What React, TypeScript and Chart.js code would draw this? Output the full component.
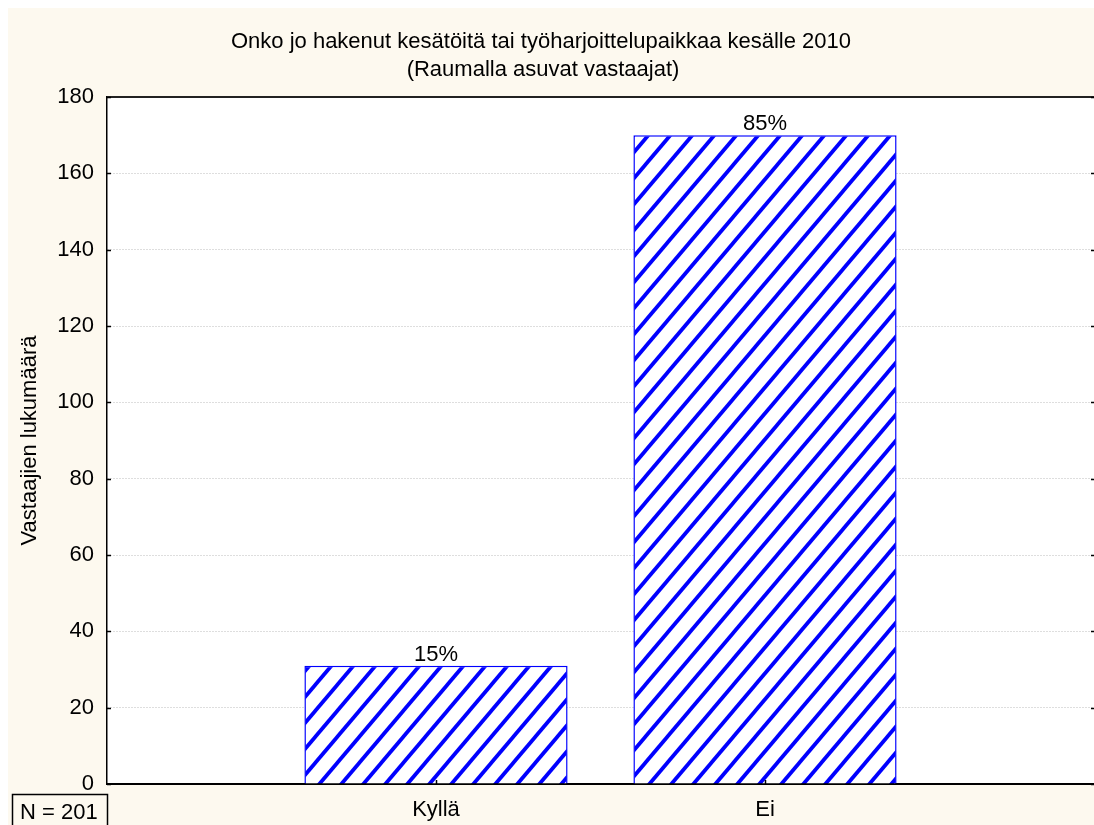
import { useEffect, useRef } from 'react';
import { Chart, registerables } from 'chart.js';

Chart.register(...registerables);

// Survey question and sample
const titleLines = [
  'Onko jo hakenut kesätöitä tai työharjoittelupaikkaa kesälle 2010',
  '(Raumalla asuvat vastaajat)',
];
const categories = ['Kyllä', 'Ei'];
const counts = [31, 170];
const percentLabels = ['15%', '85%'];
const yTitle = 'Vastaajien lukumäärä';
const sampleNote = 'N = 201';
const yMin = 0;
const yMax = 180;
const yStep = 20;

const FONT_FAMILY = '"Liberation Sans", Arial, sans-serif';
const FONT_SIZE = 22;
const PAGE_BG = '#FDF9EF';
const BLUE = '#0000FF';

// Diagonal "/" hatch used as the bar fill
function makeHatch(): CanvasPattern | string {
  const w = 22;
  const h = 26;
  const tile = document.createElement('canvas');
  tile.width = w;
  tile.height = h;
  const g = tile.getContext('2d');
  if (!g) return '#ffffff';
  g.fillStyle = '#ffffff';
  g.fillRect(0, 0, w, h);
  g.strokeStyle = BLUE;
  g.lineWidth = 3.8;
  for (const k of [-1, 0, 1]) {
    g.beginPath();
    g.moveTo(k * w - w, 2 * h);
    g.lineTo(k * w + 2 * w, -h);
    g.stroke();
  }
  return g.createPattern(tile, 'repeat') || '#ffffff';
}

const font = `${FONT_SIZE}px ${FONT_FAMILY}`;

const decorations = {
  id: 'decorations',
  beforeDraw(chart: any) {
    const { ctx, width, height, chartArea: a } = chart;
    ctx.save();
    ctx.fillStyle = PAGE_BG;
    ctx.fillRect(0, 0, width, height);
    ctx.fillStyle = '#ffffff';
    ctx.fillRect(a.left, a.top, a.right - a.left, a.bottom - a.top);
    ctx.restore();
  },
  afterDraw(chart: any) {
    const { ctx, chartArea: a, scales } = chart;
    const y = scales.y;
    const x = scales.x;
    ctx.save();

    // top frame line
    ctx.strokeStyle = '#222222';
    ctx.lineWidth = 2;
    ctx.beginPath();
    ctx.moveTo(a.left, a.top);
    ctx.lineTo(a.right, a.top);
    ctx.stroke();

    // inward tick marks on the left and right edges
    ctx.strokeStyle = '#000000';
    ctx.lineWidth = 1.5;
    for (let v = yMin; v <= yMax; v += yStep) {
      const py = Math.round(y.getPixelForValue(v)) + 0.5;
      ctx.beginPath();
      ctx.moveTo(a.left, py);
      ctx.lineTo(a.left + 4, py);
      ctx.moveTo(a.right - 3, py);
      ctx.lineTo(a.right, py);
      ctx.stroke();
    }
    // inward tick marks at category positions
    categories.forEach((_, i) => {
      const px = Math.round(x.getPixelForValue(i + 1)) + 0.5;
      ctx.beginPath();
      ctx.moveTo(px, a.bottom);
      ctx.lineTo(px, a.bottom - 4);
      ctx.stroke();
    });

    ctx.fillStyle = '#000000';
    ctx.font = font;

    // title
    ctx.textAlign = 'center';
    ctx.textBaseline = 'middle';
    ctx.fillText(titleLines[0], 533, 34);
    ctx.fillText(titleLines[1], 535, 62);

    // value labels above bars
    const meta = chart.getDatasetMeta(0);
    ctx.textBaseline = 'alphabetic';
    categories.forEach((_, i) => {
      const bar = meta.data[i + 1];
      if (!bar) return;
      ctx.fillText(percentLabels[i], bar.x, bar.y - 5);
    });

    // y axis title
    ctx.save();
    ctx.translate(22, (a.top + a.bottom) / 2);
    ctx.rotate(-Math.PI / 2);
    ctx.textBaseline = 'middle';
    ctx.fillText(yTitle, 0, 0);
    ctx.restore();

    // sample size box
    ctx.lineWidth = 1.5;
    ctx.strokeStyle = '#000000';
    ctx.strokeRect(4.5, 786.5, 95, 40);
    ctx.textAlign = 'left';
    ctx.textBaseline = 'middle';
    ctx.fillText(sampleNote, 12, 805);

    ctx.restore();
  },
};

export default function App() {
  const canvasRef = useRef<HTMLCanvasElement | null>(null);

  useEffect(() => {
    const canvas = canvasRef.current;
    if (!canvas) return;
    const hatch = makeHatch();
    const labels = ['', ...categories, ''];
    const values = [null, ...counts, null];

    const chart = new Chart(canvas, {
      type: 'bar',
      data: {
        labels,
        datasets: [
          {
            data: values as any,
            backgroundColor: hatch as any,
            borderColor: BLUE,
            borderWidth: 1.5,
            barPercentage: 0.8,
            categoryPercentage: 1,
          },
        ],
      },
      options: {
        animation: false,
        responsive: false,
        maintainAspectRatio: false,
        layout: { autoPadding: false, padding: { top: 89, left: 0, right: 0, bottom: 0 } },
        plugins: {
          legend: { display: false },
          title: { display: false },
          tooltip: { enabled: false },
        },
        scales: {
          x: {
            type: 'category',
            offset: false,
            grid: { display: false, drawTicks: false },
            border: { display: true, color: '#000000', width: 2 },
            ticks: {
              autoSkip: false,
              maxRotation: 0,
              padding: 13,
              color: '#000000',
              font: { family: FONT_FAMILY, size: FONT_SIZE },
            },
            afterFit(scale: any) {
              scale.height = 41;
              scale.paddingLeft = 0;
              scale.paddingRight = 0;
            },
          },
          y: {
            min: yMin,
            max: yMax,
            grid: {
              color: '#bdbdbd',
              lineWidth: 1,
              drawTicks: false,
            },
            border: { display: true, color: '#000000', width: 1.5, dash: [1, 2] },
            ticks: {
              stepSize: yStep,
              padding: 13,
              color: '#000000',
              font: { family: FONT_FAMILY, size: FONT_SIZE },
            },
            afterFit(scale: any) {
              scale.width = 99;
              scale.paddingTop = 0;
              scale.paddingBottom = 0;
            },
          },
        },
      },
      plugins: [decorations],
    });

    return () => chart.destroy();
  }, []);

  return (
    <div style={{ position: 'fixed', left: 8, top: 8, width: 1086, height: 817, overflow: 'hidden' }}>
      <canvas ref={canvasRef} width={1086} height={817} style={{ display: 'block' }} />
    </div>
  );
}
